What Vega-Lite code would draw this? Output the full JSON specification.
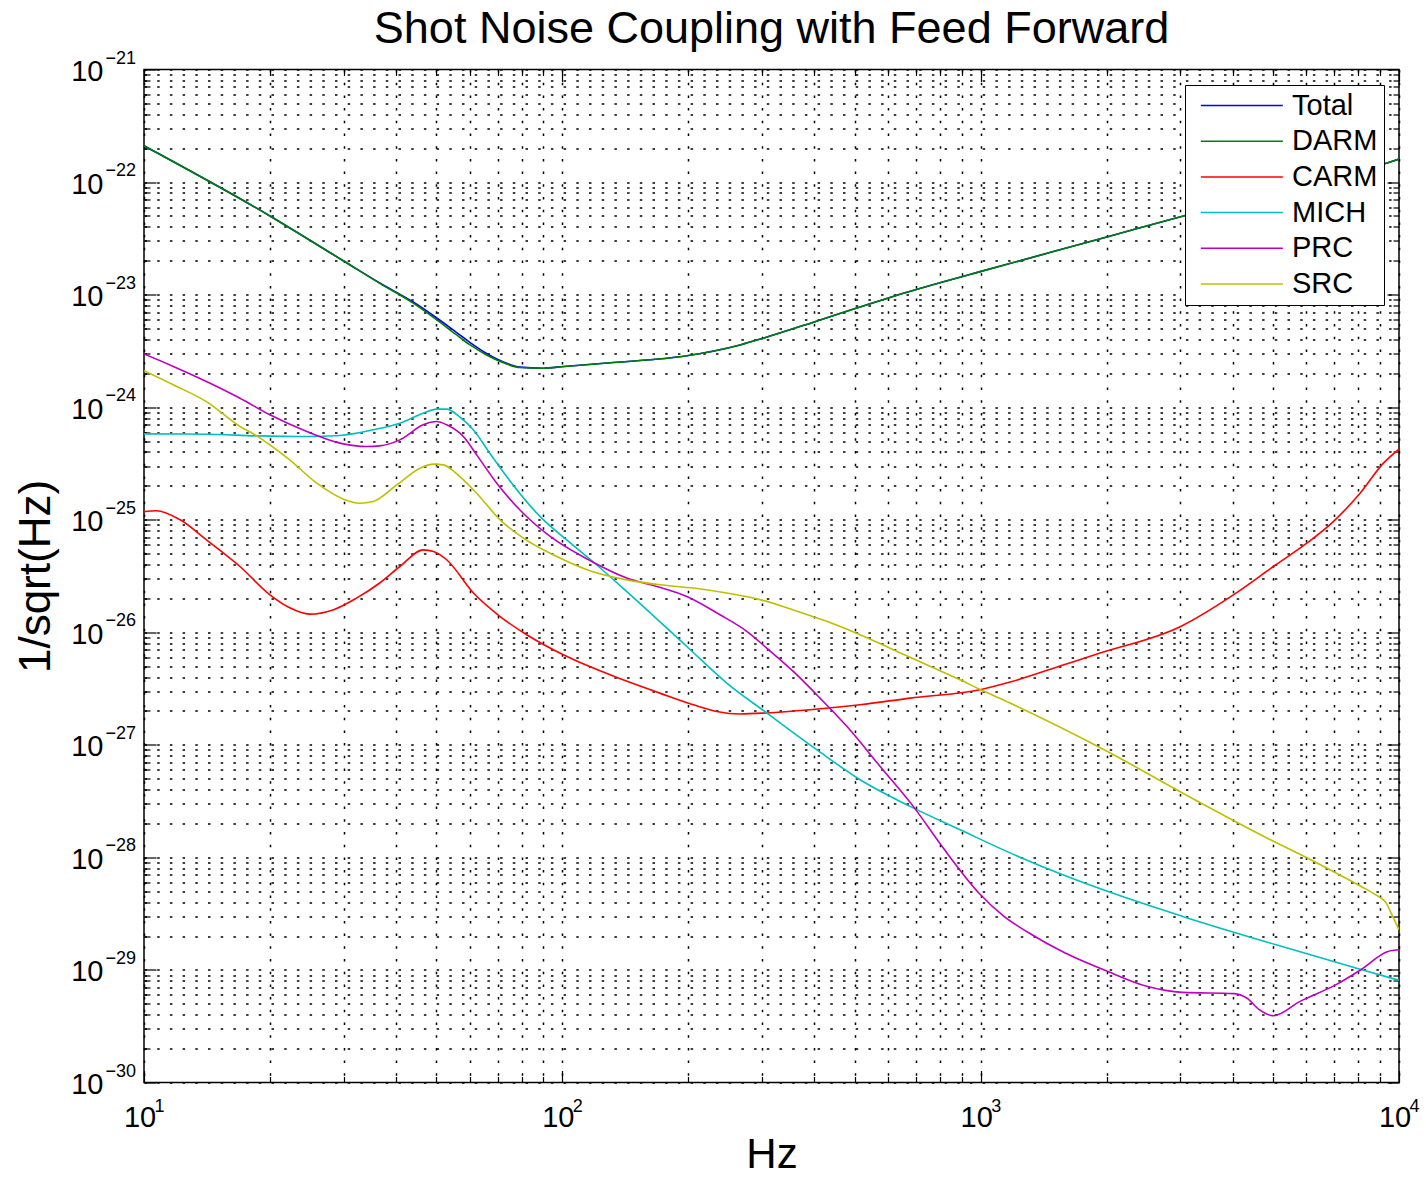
{
  "$schema": "https://vega.github.io/schema/vega-lite/v6.json",
  "autosize": {"type": "none"},
  "padding": {"left": 144, "top": 69.5, "right": 27, "bottom": 94.5},
  "width": 1255,
  "height": 1013,
  "background": "white",
  "title": {
    "text": "Shot Noise Coupling with Feed Forward",
    "font": "Liberation Sans",
    "fontSize": 45,
    "fontWeight": "normal",
    "color": "#000",
    "anchor": "middle",
    "baseline": "alphabetic",
    "offset": -38.5
  },
  "data": {
    "values": [
      {"s": "Total", "f": 10, "v": 2.1e-22},
      {"s": "Total", "f": 20, "v": 5.0e-23},
      {"s": "Total", "f": 30, "v": 1.99e-23},
      {"s": "Total", "f": 36.6, "v": 1.27e-23},
      {"s": "Total", "f": 44, "v": 8.6e-24},
      {"s": "Total", "f": 50.1, "v": 6.2e-24},
      {"s": "Total", "f": 55.9, "v": 4.6e-24},
      {"s": "Total", "f": 60.2, "v": 3.75e-24},
      {"s": "Total", "f": 65.9, "v": 3.0e-24},
      {"s": "Total", "f": 69.7, "v": 2.68e-24},
      {"s": "Total", "f": 79.2, "v": 2.27e-24},
      {"s": "Total", "f": 90, "v": 2.22e-24},
      {"s": "Total", "f": 101, "v": 2.3e-24},
      {"s": "Total", "f": 132.4, "v": 2.49e-24},
      {"s": "Total", "f": 198.4, "v": 2.86e-24},
      {"s": "Total", "f": 266, "v": 3.57e-24},
      {"s": "Total", "f": 302.3, "v": 4.1e-24},
      {"s": "Total", "f": 401.8, "v": 5.75e-24},
      {"s": "Total", "f": 503.5, "v": 7.57e-24},
      {"s": "Total", "f": 601.6, "v": 9.35e-24},
      {"s": "Total", "f": 803, "v": 1.28e-23},
      {"s": "Total", "f": 997, "v": 1.6e-23},
      {"s": "Total", "f": 2013, "v": 3.27e-23},
      {"s": "Total", "f": 3052, "v": 5.0e-23},
      {"s": "Total", "f": 5000, "v": 8.11e-23},
      {"s": "Total", "f": 9366, "v": 1.48e-22},
      {"s": "Total", "f": 10000, "v": 1.6e-22},

      {"s": "DARM", "f": 10, "v": 2.1e-22},
      {"s": "DARM", "f": 20, "v": 5.0e-23},
      {"s": "DARM", "f": 30, "v": 1.99e-23},
      {"s": "DARM", "f": 36.6, "v": 1.26e-23},
      {"s": "DARM", "f": 44, "v": 8.39e-24},
      {"s": "DARM", "f": 50.1, "v": 5.96e-24},
      {"s": "DARM", "f": 55.9, "v": 4.38e-24},
      {"s": "DARM", "f": 60.2, "v": 3.57e-24},
      {"s": "DARM", "f": 65.9, "v": 2.91e-24},
      {"s": "DARM", "f": 69.7, "v": 2.63e-24},
      {"s": "DARM", "f": 79.2, "v": 2.25e-24},
      {"s": "DARM", "f": 90, "v": 2.22e-24},
      {"s": "DARM", "f": 101, "v": 2.3e-24},
      {"s": "DARM", "f": 132.4, "v": 2.49e-24},
      {"s": "DARM", "f": 198.4, "v": 2.86e-24},
      {"s": "DARM", "f": 266, "v": 3.57e-24},
      {"s": "DARM", "f": 302.3, "v": 4.1e-24},
      {"s": "DARM", "f": 401.8, "v": 5.75e-24},
      {"s": "DARM", "f": 503.5, "v": 7.57e-24},
      {"s": "DARM", "f": 601.6, "v": 9.35e-24},
      {"s": "DARM", "f": 803, "v": 1.28e-23},
      {"s": "DARM", "f": 997, "v": 1.6e-23},
      {"s": "DARM", "f": 2013, "v": 3.27e-23},
      {"s": "DARM", "f": 3052, "v": 5.0e-23},
      {"s": "DARM", "f": 5000, "v": 8.11e-23},
      {"s": "DARM", "f": 9366, "v": 1.48e-22},
      {"s": "DARM", "f": 10000, "v": 1.6e-22},

      {"s": "CARM", "f": 10, "v": 1.18e-25},
      {"s": "CARM", "f": 10.7, "v": 1.2e-25},
      {"s": "CARM", "f": 12.2, "v": 9.98e-26},
      {"s": "CARM", "f": 14.1, "v": 6.63e-26},
      {"s": "CARM", "f": 16.96, "v": 3.84e-26},
      {"s": "CARM", "f": 20, "v": 2.15e-26},
      {"s": "CARM", "f": 22.3, "v": 1.65e-26},
      {"s": "CARM", "f": 24.9, "v": 1.45e-26},
      {"s": "CARM", "f": 28.3, "v": 1.58e-26},
      {"s": "CARM", "f": 32.2, "v": 2.01e-26},
      {"s": "CARM", "f": 36.6, "v": 2.74e-26},
      {"s": "CARM", "f": 40.9, "v": 3.84e-26},
      {"s": "CARM", "f": 46.5, "v": 5.4e-26},
      {"s": "CARM", "f": 49.2, "v": 5.22e-26},
      {"s": "CARM", "f": 52.9, "v": 4.41e-26},
      {"s": "CARM", "f": 61.3, "v": 2.23e-26},
      {"s": "CARM", "f": 71, "v": 1.38e-26},
      {"s": "CARM", "f": 82.2, "v": 9.5e-27},
      {"s": "CARM", "f": 100.5, "v": 6.31e-27},
      {"s": "CARM", "f": 130, "v": 4.19e-27},
      {"s": "CARM", "f": 171, "v": 2.88e-27},
      {"s": "CARM", "f": 205.6, "v": 2.27e-27},
      {"s": "CARM", "f": 233.9, "v": 1.98e-27},
      {"s": "CARM", "f": 266, "v": 1.88e-27},
      {"s": "CARM", "f": 308, "v": 1.92e-27},
      {"s": "CARM", "f": 391, "v": 2.05e-27},
      {"s": "CARM", "f": 515, "v": 2.27e-27},
      {"s": "CARM", "f": 678, "v": 2.6e-27},
      {"s": "CARM", "f": 997, "v": 3.09e-27},
      {"s": "CARM", "f": 1176, "v": 3.61e-27},
      {"s": "CARM", "f": 1581, "v": 5.14e-27},
      {"s": "CARM", "f": 1930, "v": 6.53e-27},
      {"s": "CARM", "f": 2997, "v": 1.12e-26},
      {"s": "CARM", "f": 4018, "v": 2.15e-26},
      {"s": "CARM", "f": 5008, "v": 3.84e-26},
      {"s": "CARM", "f": 6019, "v": 6.19e-26},
      {"s": "CARM", "f": 6966, "v": 9.63e-26},
      {"s": "CARM", "f": 8072, "v": 1.72e-25},
      {"s": "CARM", "f": 9177, "v": 3.18e-25},
      {"s": "CARM", "f": 10000, "v": 4.24e-25},

      {"s": "MICH", "f": 10, "v": 5.79e-25},
      {"s": "MICH", "f": 14.1, "v": 5.75e-25},
      {"s": "MICH", "f": 18.6, "v": 5.56e-25},
      {"s": "MICH", "f": 24.5, "v": 5.48e-25},
      {"s": "MICH", "f": 29.4, "v": 5.6e-25},
      {"s": "MICH", "f": 35.3, "v": 6.29e-25},
      {"s": "MICH", "f": 40.9, "v": 7.21e-25},
      {"s": "MICH", "f": 46.5, "v": 8.85e-25},
      {"s": "MICH", "f": 50.1, "v": 9.6e-25},
      {"s": "MICH", "f": 52.9, "v": 9.6e-25},
      {"s": "MICH", "f": 56.9, "v": 8.15e-25},
      {"s": "MICH", "f": 61.3, "v": 6.28e-25},
      {"s": "MICH", "f": 67.1, "v": 3.9e-25},
      {"s": "MICH", "f": 73.6, "v": 2.42e-25},
      {"s": "MICH", "f": 88.4, "v": 1.07e-25},
      {"s": "MICH", "f": 106.2, "v": 5.93e-26},
      {"s": "MICH", "f": 118.6, "v": 4.21e-26},
      {"s": "MICH", "f": 142.6, "v": 2.3e-26},
      {"s": "MICH", "f": 198.4, "v": 7.48e-27},
      {"s": "MICH", "f": 247.2, "v": 3.54e-27},
      {"s": "MICH", "f": 308, "v": 1.92e-27},
      {"s": "MICH", "f": 405.6, "v": 9.05e-28},
      {"s": "MICH", "f": 515, "v": 4.9e-28},
      {"s": "MICH", "f": 678, "v": 2.84e-28},
      {"s": "MICH", "f": 893, "v": 1.76e-28},
      {"s": "MICH", "f": 1229, "v": 1.02e-28},
      {"s": "MICH", "f": 2009, "v": 4.99e-29},
      {"s": "MICH", "f": 3038, "v": 2.99e-29},
      {"s": "MICH", "f": 5064, "v": 1.68e-29},
      {"s": "MICH", "f": 8110, "v": 1.01e-29},
      {"s": "MICH", "f": 10000, "v": 8.09e-30},

      {"s": "PRC", "f": 10, "v": 2.97e-24},
      {"s": "PRC", "f": 11.75, "v": 2.3e-24},
      {"s": "PRC", "f": 14.1, "v": 1.69e-24},
      {"s": "PRC", "f": 16.96, "v": 1.2e-24},
      {"s": "PRC", "f": 20, "v": 8.55e-25},
      {"s": "PRC", "f": 24.5, "v": 6.07e-25},
      {"s": "PRC", "f": 29.4, "v": 4.79e-25},
      {"s": "PRC", "f": 34.1, "v": 4.47e-25},
      {"s": "PRC", "f": 36.6, "v": 4.53e-25},
      {"s": "PRC", "f": 40.9, "v": 5.12e-25},
      {"s": "PRC", "f": 46.5, "v": 6.97e-25},
      {"s": "PRC", "f": 50.1, "v": 7.45e-25},
      {"s": "PRC", "f": 52.9, "v": 6.97e-25},
      {"s": "PRC", "f": 58, "v": 5.48e-25},
      {"s": "PRC", "f": 62.4, "v": 3.77e-25},
      {"s": "PRC", "f": 69.7, "v": 2.11e-25},
      {"s": "PRC", "f": 79.2, "v": 1.22e-25},
      {"s": "PRC", "f": 93.5, "v": 7.1e-26},
      {"s": "PRC", "f": 116.4, "v": 4.34e-26},
      {"s": "PRC", "f": 142.6, "v": 3.03e-26},
      {"s": "PRC", "f": 168.2, "v": 2.55e-26},
      {"s": "PRC", "f": 198.4, "v": 2.08e-26},
      {"s": "PRC", "f": 238.2, "v": 1.43e-26},
      {"s": "PRC", "f": 276, "v": 1.02e-26},
      {"s": "PRC", "f": 308, "v": 7.24e-27},
      {"s": "PRC", "f": 356.5, "v": 4.49e-27},
      {"s": "PRC", "f": 413, "v": 2.6e-27},
      {"s": "PRC", "f": 478.6, "v": 1.46e-27},
      {"s": "PRC", "f": 575, "v": 6.43e-28},
      {"s": "PRC", "f": 690, "v": 2.84e-28},
      {"s": "PRC", "f": 814, "v": 1.21e-28},
      {"s": "PRC", "f": 990, "v": 4.83e-29},
      {"s": "PRC", "f": 1137, "v": 2.99e-29},
      {"s": "PRC", "f": 1305, "v": 2.13e-29},
      {"s": "PRC", "f": 1588, "v": 1.42e-29},
      {"s": "PRC", "f": 2009, "v": 9.72e-30},
      {"s": "PRC", "f": 2495, "v": 7.15e-30},
      {"s": "PRC", "f": 3038, "v": 6.32e-30},
      {"s": "PRC", "f": 4039, "v": 6.16e-30},
      {"s": "PRC", "f": 4325, "v": 5.63e-30},
      {"s": "PRC", "f": 4634, "v": 4.44e-30},
      {"s": "PRC", "f": 5012, "v": 3.92e-30},
      {"s": "PRC", "f": 5801, "v": 5.26e-30},
      {"s": "PRC", "f": 7073, "v": 7.4e-30},
      {"s": "PRC", "f": 8118, "v": 1.01e-29},
      {"s": "PRC", "f": 9408, "v": 1.46e-29},
      {"s": "PRC", "f": 10000, "v": 1.51e-29},

      {"s": "SRC", "f": 10, "v": 2.11e-24},
      {"s": "SRC", "f": 11.75, "v": 1.58e-24},
      {"s": "SRC", "f": 14.1, "v": 1.12e-24},
      {"s": "SRC", "f": 16.96, "v": 6.73e-25},
      {"s": "SRC", "f": 18.6, "v": 5.56e-25},
      {"s": "SRC", "f": 20, "v": 4.62e-25},
      {"s": "SRC", "f": 22.3, "v": 3.4e-25},
      {"s": "SRC", "f": 25.9, "v": 2.11e-25},
      {"s": "SRC", "f": 30, "v": 1.52e-25},
      {"s": "SRC", "f": 32.8, "v": 1.4e-25},
      {"s": "SRC", "f": 35.3, "v": 1.45e-25},
      {"s": "SRC", "f": 40.2, "v": 2.04e-25},
      {"s": "SRC", "f": 45.7, "v": 2.87e-25},
      {"s": "SRC", "f": 49.2, "v": 3.12e-25},
      {"s": "SRC", "f": 51.9, "v": 3.07e-25},
      {"s": "SRC", "f": 56.9, "v": 2.42e-25},
      {"s": "SRC", "f": 62.4, "v": 1.72e-25},
      {"s": "SRC", "f": 71, "v": 9.98e-26},
      {"s": "SRC", "f": 80.7, "v": 6.87e-26},
      {"s": "SRC", "f": 97, "v": 4.71e-26},
      {"s": "SRC", "f": 116.4, "v": 3.52e-26},
      {"s": "SRC", "f": 142.6, "v": 2.92e-26},
      {"s": "SRC", "f": 171.2, "v": 2.64e-26},
      {"s": "SRC", "f": 205.6, "v": 2.47e-26},
      {"s": "SRC", "f": 247.2, "v": 2.23e-26},
      {"s": "SRC", "f": 296.9, "v": 1.95e-26},
      {"s": "SRC", "f": 356.5, "v": 1.58e-26},
      {"s": "SRC", "f": 428.5, "v": 1.25e-26},
      {"s": "SRC", "f": 515, "v": 9.51e-27},
      {"s": "SRC", "f": 618, "v": 7.0e-27},
      {"s": "SRC", "f": 743, "v": 5.14e-27},
      {"s": "SRC", "f": 893, "v": 3.78e-27},
      {"s": "SRC", "f": 1001, "v": 3.08e-27},
      {"s": "SRC", "f": 1175, "v": 2.35e-27},
      {"s": "SRC", "f": 2009, "v": 8.73e-28},
      {"s": "SRC", "f": 3038, "v": 3.73e-28},
      {"s": "SRC", "f": 5012, "v": 1.39e-28},
      {"s": "SRC", "f": 6039, "v": 9.88e-29},
      {"s": "SRC", "f": 7073, "v": 7.27e-29},
      {"s": "SRC", "f": 8118, "v": 5.52e-29},
      {"s": "SRC", "f": 8783, "v": 4.66e-29},
      {"s": "SRC", "f": 9313, "v": 3.94e-29},
      {"s": "SRC", "f": 9627, "v": 3.07e-29},
      {"s": "SRC", "f": 10000, "v": 2.28e-29}
    ]
  },
  "layer": [
    {
      "mark": {"type": "line", "strokeWidth": 1.6, "interpolate": "monotone", "clip": true},
      "encoding": {
        "x": {
          "field": "f", "type": "quantitative",
          "scale": {"type": "log", "domain": [10, 10000], "nice": false},
          "axis": {
            "orient": "bottom",
            "values": [10,20,30,40,50,60,70,80,90,100,200,300,400,500,600,700,800,900,1000,2000,3000,4000,5000,6000,7000,8000,9000,10000],
            "labelExpr": "abs(log(datum.value)/LN10 - round(log(datum.value)/LN10)) < 0.001 ? '10' : ''",
            "labelOverlap": false,
            "labelFlush": false,
            "labelFont": "Liberation Sans",
            "labelFontSize": 29,
            "labelColor": "#000",
            "labelPadding": 55.7,
            "labelBaseline": "alphabetic",
            "labelAlign": "center",
            "labelOffset": -4.5,
            "domain": false,
            "ticks": true,
            "tickColor": "#000",
            "tickWidth": 1.2,
            "tickSize": {"condition": {"test": "abs(log(datum.value)/LN10 - round(log(datum.value)/LN10)) < 0.001", "value": -12}, "value": -6},
            "grid": true,
            "gridColor": "#000",
            "gridWidth": 1.5,
            "gridDash": [2.5, 10.2],
            "title": "Hz",
            "titleFont": "Liberation Sans",
            "titleFontSize": 42,
            "titleFontWeight": "normal",
            "titleColor": "#000",
            "titleBaseline": "alphabetic",
            "titleX": 627.5,
            "titleY": 85
          }
        },
        "y": {
          "field": "v", "type": "quantitative",
          "scale": {"type": "log", "domain": [1e-30, 1e-21], "nice": false},
          "axis": {
            "orient": "left",
            "values": [1e-30,2e-30,3e-30,4e-30,5e-30,6e-30,7e-30,8e-30,9e-30,1e-29,2e-29,3e-29,4e-29,5e-29,6e-29,7e-29,8e-29,9e-29,1e-28,2e-28,3e-28,4e-28,5e-28,6e-28,7e-28,8e-28,9e-28,1e-27,2e-27,3e-27,4e-27,5e-27,6e-27,7e-27,8e-27,9e-27,1e-26,2e-26,3e-26,4e-26,5e-26,6e-26,7e-26,8e-26,9e-26,1e-25,2e-25,3e-25,4e-25,5e-25,6e-25,7e-25,8e-25,9e-25,1e-24,2e-24,3e-24,4e-24,5e-24,6e-24,7e-24,8e-24,9e-24,1e-23,2e-23,3e-23,4e-23,5e-23,6e-23,7e-23,8e-23,9e-23,1e-22,2e-22,3e-22,4e-22,5e-22,6e-22,7e-22,8e-22,9e-22,1e-21],
            "labelExpr": "abs(log(datum.value)/LN10 - round(log(datum.value)/LN10)) < 0.001 ? '10' : ''",
            "labelOverlap": false,
            "labelFlush": false,
            "labelFont": "Liberation Sans",
            "labelFontSize": 29,
            "labelColor": "#000",
            "labelPadding": 53,
            "labelBaseline": "alphabetic",
            "labelAlign": "right",
            "labelOffset": 11,
            "domain": false,
            "ticks": true,
            "tickColor": "#000",
            "tickWidth": 1.2,
            "tickSize": {"condition": {"test": "abs(log(datum.value)/LN10 - round(log(datum.value)/LN10)) < 0.001", "value": -12}, "value": -6},
            "grid": true,
            "gridColor": "#000",
            "gridWidth": 1.5,
            "gridDash": [2.5, 10.2],
            "title": "1/sqrt(Hz)",
            "titleFont": "Liberation Sans",
            "titleFontSize": 44,
            "titleFontWeight": "normal",
            "titleColor": "#000",
            "titleAngle": 270,
            "titleBaseline": "alphabetic",
            "titleAlign": "center",
            "titleX": -94.7,
            "titleY": 506.5
          }
        },
        "color": {
          "field": "s", "type": "nominal",
          "scale": {
            "domain": ["Total", "DARM", "CARM", "MICH", "PRC", "SRC"],
            "range": ["#0000ff", "#008000", "#ff0000", "#00bfbf", "#bf00bf", "#bfbf00"]
          },
          "legend": {
            "title": null,
            "orient": "none",
            "legendX": 1041,
            "legendY": 15.5,
            "symbolType": "M-1,0H5",
            "symbolSize": 747,
            "symbolStrokeWidth": 1.5,
            "symbolFillColor": "transparent",
            "labelFont": "Liberation Sans",
            "labelFontSize": 29,
            "labelColor": "#000",
            "labelOffset": 63,
            "rowPadding": 5.7,
            "padding": 6,
            "symbolOffset": 9,
            "strokeColor": "#000",
            "fillColor": "#fff",
            "cornerRadius": 0
          }
        }
      }
    },
    {
      "mark": {"type": "point", "opacity": 0, "size": 1},
      "encoding": {
        "x": {
          "field": "f", "type": "quantitative",
          "scale": {"type": "log", "domain": [10, 10000], "nice": false},
          "axis": {
            "orient": "top",
            "values": [10,20,30,40,50,60,70,80,90,100,200,300,400,500,600,700,800,900,1000,2000,3000,4000,5000,6000,7000,8000,9000,10000],
            "labels": false,
            "domain": false,
            "grid": false,
            "ticks": true,
            "tickColor": "#000",
            "tickWidth": 1.2,
            "tickSize": {"condition": {"test": "abs(log(datum.value)/LN10 - round(log(datum.value)/LN10)) < 0.001", "value": -12}, "value": -6},
            "title": null
          }
        },
        "y": {
          "field": "v", "type": "quantitative",
          "scale": {"type": "log", "domain": [1e-30, 1e-21], "nice": false},
          "axis": {
            "orient": "right",
            "values": [1e-30,2e-30,3e-30,4e-30,5e-30,6e-30,7e-30,8e-30,9e-30,1e-29,2e-29,3e-29,4e-29,5e-29,6e-29,7e-29,8e-29,9e-29,1e-28,2e-28,3e-28,4e-28,5e-28,6e-28,7e-28,8e-28,9e-28,1e-27,2e-27,3e-27,4e-27,5e-27,6e-27,7e-27,8e-27,9e-27,1e-26,2e-26,3e-26,4e-26,5e-26,6e-26,7e-26,8e-26,9e-26,1e-25,2e-25,3e-25,4e-25,5e-25,6e-25,7e-25,8e-25,9e-25,1e-24,2e-24,3e-24,4e-24,5e-24,6e-24,7e-24,8e-24,9e-24,1e-23,2e-23,3e-23,4e-23,5e-23,6e-23,7e-23,8e-23,9e-23,1e-22,2e-22,3e-22,4e-22,5e-22,6e-22,7e-22,8e-22,9e-22,1e-21],
            "labels": false,
            "domain": false,
            "grid": false,
            "ticks": true,
            "tickColor": "#000",
            "tickWidth": 1.2,
            "tickSize": {"condition": {"test": "abs(log(datum.value)/LN10 - round(log(datum.value)/LN10)) < 0.001", "value": -12}, "value": -6},
            "title": null
          }
        }
      }
    },
    {
      "mark": {"type": "point", "opacity": 0, "size": 1},
      "encoding": {
        "x": {
          "field": "f", "type": "quantitative",
          "scale": {"type": "log", "domain": [10, 10000], "nice": false},
          "axis": {
            "orient": "bottom",
            "values": [10, 100, 1000, 10000],
            "labelExpr": "['1','2','3','4'][round(log(datum.value)/LN10) - 1]",
            "labelOverlap": false,
            "labelFlush": false,
            "labelFont": "Liberation Sans",
            "labelFontSize": 18,
            "labelColor": "#000",
            "labelPadding": 28.7,
            "labelBaseline": "alphabetic",
            "labelAlign": "left",
            "labelOffset": 10,
            "domain": false,
            "ticks": false,
            "grid": false,
            "title": null
          }
        },
        "y": {
          "field": "v", "type": "quantitative",
          "scale": {"type": "log", "domain": [1e-30, 1e-21], "nice": false},
          "axis": {
            "orient": "left",
            "values": [1e-30, 1e-29, 1e-28, 1e-27, 1e-26, 1e-25, 1e-24, 1e-23, 1e-22, 1e-21],
            "labelExpr": "['−30','−29','−28','−27','−26','−25','−24','−23','−22','−21'][round(log(datum.value)/LN10) + 30]",
            "labelOverlap": false,
            "labelFlush": false,
            "labelFont": "Liberation Sans",
            "labelFontSize": 18,
            "labelColor": "#000",
            "labelPadding": 39,
            "labelBaseline": "alphabetic",
            "labelAlign": "left",
            "labelOffset": -6.4,
            "domain": false,
            "ticks": false,
            "grid": false,
            "title": null
          }
        }
      }
    }
  ],
  "resolve": {"axis": {"x": "independent", "y": "independent"}},
  "config": {
    "view": {"stroke": "#000", "strokeWidth": 1.5},
    "font": "Liberation Sans"
  }
}
